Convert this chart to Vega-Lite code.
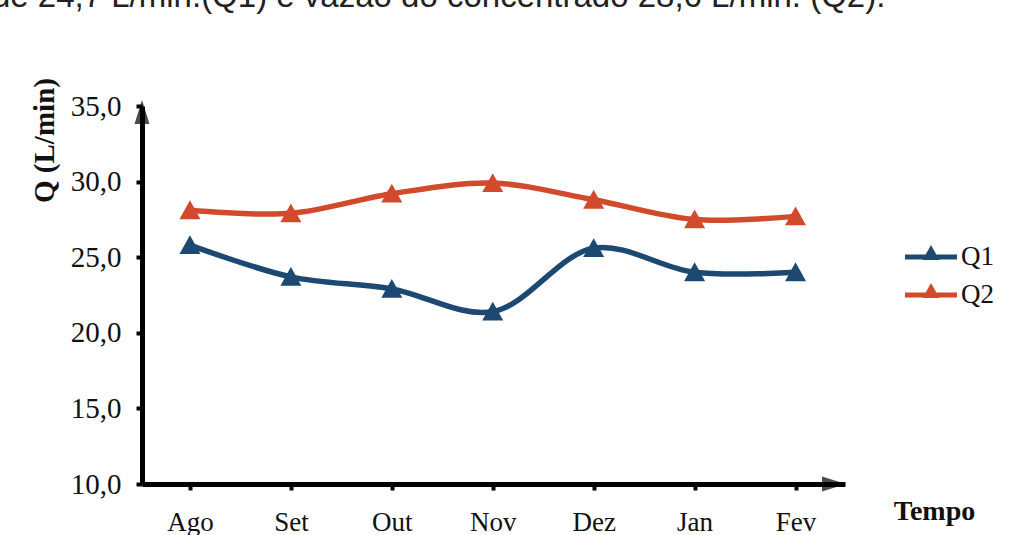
{
  "$schema": "https://vega.github.io/schema/vega-lite/v6.json",
  "autosize": "none",
  "width": 703,
  "height": 378,
  "padding": {"left": 142, "top": 106, "right": 167, "bottom": 51},
  "background": "#ffffff",
  "title": {
    "text": "de 24,7 L/min.(Q1) e vazão do concentrado 28,6 L/min. (Q2).",
    "anchor": "start",
    "frame": "group",
    "font": "Liberation Sans",
    "fontSize": 33,
    "fontWeight": "normal",
    "color": "#222222",
    "baseline": "alphabetic",
    "offset": 0,
    "dx": -150,
    "dy": -38
  },
  "data": {
    "values": [
      {"mes": "Ago", "i": 0, "serie": "Q1", "q": 25.8},
      {"mes": "Set", "i": 1, "serie": "Q1", "q": 23.7},
      {"mes": "Out", "i": 2, "serie": "Q1", "q": 22.9},
      {"mes": "Nov", "i": 3, "serie": "Q1", "q": 21.4},
      {"mes": "Dez", "i": 4, "serie": "Q1", "q": 25.6},
      {"mes": "Jan", "i": 5, "serie": "Q1", "q": 24.0},
      {"mes": "Fev", "i": 6, "serie": "Q1", "q": 24.0},
      {"mes": "Ago", "i": 0, "serie": "Q2", "q": 28.1},
      {"mes": "Set", "i": 1, "serie": "Q2", "q": 27.9},
      {"mes": "Out", "i": 2, "serie": "Q2", "q": 29.2},
      {"mes": "Nov", "i": 3, "serie": "Q2", "q": 29.9},
      {"mes": "Dez", "i": 4, "serie": "Q2", "q": 28.8},
      {"mes": "Jan", "i": 5, "serie": "Q2", "q": 27.5},
      {"mes": "Fev", "i": 6, "serie": "Q2", "q": 27.7}
    ]
  },
  "layer": [
    {
      "mark": {
        "type": "line",
        "interpolate": "catmull-rom",
        "strokeWidth": 5.5,
        "point": {"shape": "M0,-0.95L1,0.85L-1,0.85Z", "size": 440, "filled": true, "strokeWidth": 0}
      },
      "encoding": {
        "x": {
          "field": "i",
          "type": "quantitative",
          "scale": {"domain": [-0.475, 6.49], "nice": false, "zero": false},
          "axis": {
            "values": [0, 1, 2, 3, 4, 5, 6],
            "labelExpr": "['Ago','Set','Out','Nov','Dez','Jan','Fev'][datum.value]",
            "grid": false,
            "domainColor": "#000000",
            "domainWidth": 5,
            "tickColor": "#000000",
            "tickWidth": 4,
            "tickSize": 6,
            "labelFont": "Liberation Serif",
            "labelFontSize": 27,
            "labelColor": "#111111",
            "labelPadding": 19,
            "labelFlush": false,
            "title": "Tempo",
            "titleFont": "Liberation Serif",
            "titleFontSize": 28,
            "titleFontWeight": "bold",
            "titleColor": "#111111",
            "titleX": 792,
            "titleY": 35,
            "titleAlign": "center",
            "titleBaseline": "alphabetic"
          }
        },
        "y": {
          "field": "q",
          "type": "quantitative",
          "scale": {"domain": [10, 35], "nice": false, "zero": false},
          "axis": {
            "values": [10, 15, 20, 25, 30, 35],
            "labelExpr": "replace(format(datum.value, '.1f'), '.', ',')",
            "grid": false,
            "domainColor": "#000000",
            "domainWidth": 5,
            "tickColor": "#000000",
            "tickWidth": 4,
            "tickSize": 6,
            "labelFont": "Liberation Serif",
            "labelFontSize": 29,
            "labelColor": "#111111",
            "labelPadding": 15,
            "labelFlush": false,
            "title": "Q (L/min)",
            "titleFont": "Liberation Serif",
            "titleFontSize": 29,
            "titleFontWeight": "bold",
            "titleColor": "#111111",
            "titleAngle": -90,
            "titleX": -89,
            "titleY": 34,
            "titleAlign": "center",
            "titleBaseline": "alphabetic"
          }
        },
        "color": {
          "field": "serie",
          "type": "nominal",
          "scale": {"domain": ["Q1", "Q2"], "range": ["#1c4872", "#d24a2c"]},
          "legend": {
            "title": null,
            "orient": "none",
            "legendX": 769,
            "legendY": 131,
            "symbolType": "M-1.3,-0.12L1.3,-0.12L1.3,0.12L-1.3,0.12Z M-0.42,0.15L0,-0.6L0.42,0.15Z",
            "symbolSize": 1600,
            "symbolStrokeWidth": 0,
            "labelFont": "Liberation Serif",
            "labelFontSize": 27,
            "labelColor": "#111111",
            "labelOffset": 10,
            "rowPadding": 5
          }
        }
      }
    },
    {
      "data": {"values": [{}]},
      "mark": {"type": "point", "shape": "M0,0L0.5,1.6L-0.5,1.6Z", "size": 900, "filled": true, "color": "#000000", "strokeWidth": 0},
      "encoding": {
        "x": {"datum": -0.475, "type": "quantitative"},
        "y": {"datum": 35.4, "type": "quantitative"}
      }
    },
    {
      "data": {"values": [{}]},
      "mark": {"type": "point", "shape": "M0,0L-1.6,-0.5L-1.6,0.5Z", "size": 900, "filled": true, "color": "#000000", "strokeWidth": 0},
      "encoding": {
        "x": {"datum": 6.5, "type": "quantitative"},
        "y": {"datum": 10, "type": "quantitative"}
      }
    }
  ],
  "config": {
    "view": {"stroke": null},
    "font": "Liberation Serif"
  }
}
